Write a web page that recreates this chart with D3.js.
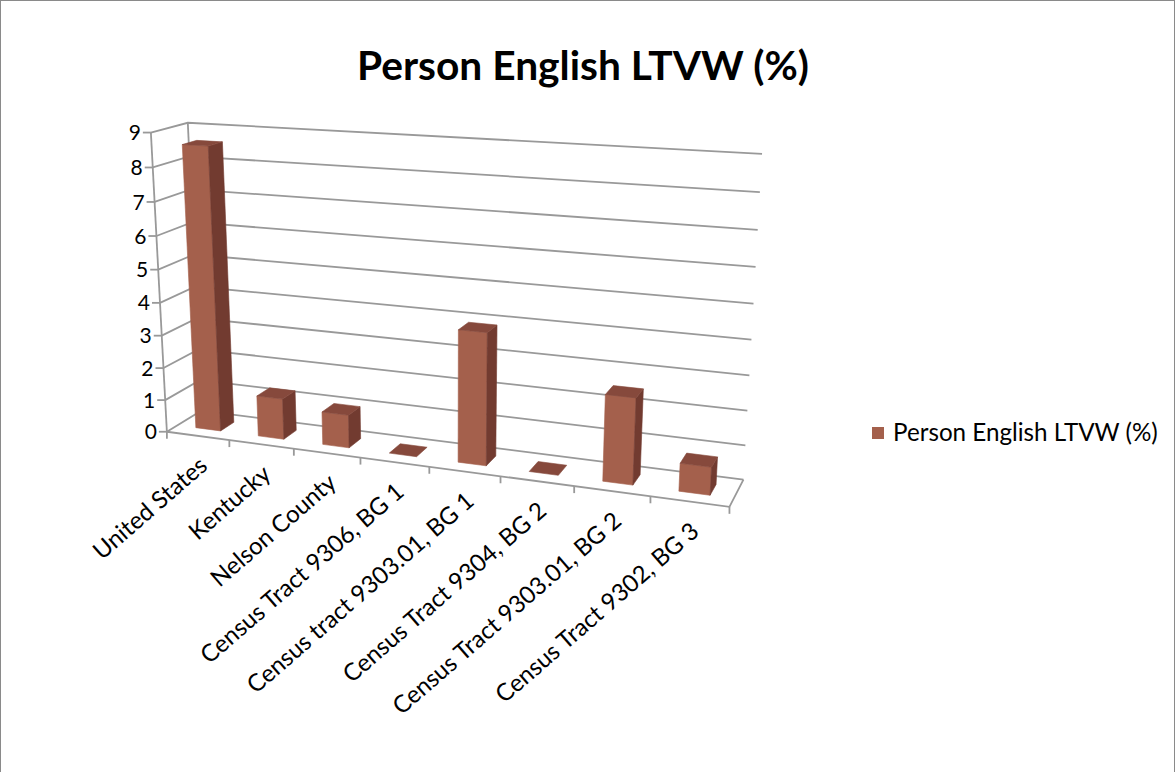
<!DOCTYPE html>
<html>
<head>
<meta charset="utf-8">
<script src="https://cdn.jsdelivr.net/npm/d3@7"></script>
<style>
body{margin:0;background:#fff}
text{font-family:Lato,'Open Sans',sans-serif;fill:#000}
</style>
</head>
<body>
<div id="chart"></div>
<script>
// data
var categories = ['United States','Kentucky','Nelson County','Census Tract 9306, BG 1',
                  'Census tract 9303.01, BG 1','Census Tract 9304, BG 2',
                  'Census Tract 9303.01, BG 2','Census Tract 9302, BG 3'];
var values = [8.6, 1.25, 1.0, 0, 3.9, 0, 2.5, 0.8];
var yTicks = [0,1,2,3,4,5,6,7,8,9];
var seriesName = 'Person English LTVW (%)';
var chartTitle = 'Person English LTVW (%)';

var width=1176, height=772;
var barFront='#a4604c', barSide='#723b30', barTop='#86493c';
var gridColor='#999999';

var svg=d3.select('#chart').append('svg').attr('width',width).attr('height',height);

svg.append('rect').attr('x',0.5).attr('y',0.5).attr('width',width-2).attr('height',height+5)
   .attr('fill','#fff').attr('stroke','#8a8a8a');

// plot box (unit cube) -> screen, points of the frame seen in the picture
var frame=[
  [[0,0,0],[166.7,431.7]],
  [[0,1,0],[150.7,133.3]],
  [[0,1,1],[188,122]],
  [[0,0,1],[201.5,411]],
  [[1,0,1],[743,480]],
  [[1,1,1],[762,154]],
  [[1,0,0],[730,506.7]]
];
// category ticks along the front edge
[230,293,360,430,500,575,650].forEach(function(x,i){
  frame.push([[(i+1)/8,0,0],[x,431.7+0.1332*(x-166.7)]]);
});

// solve the 3x4 camera matrix from the frame (least squares)
function solveCamera(pts){
  var A=[],b=[];
  pts.forEach(function(p){
    var X=p[0][0],Y=p[0][1],Z=p[0][2],u=p[1][0],v=p[1][1];
    A.push([X,Y,Z,1,0,0,0,0,-u*X,-u*Y,-u*Z]); b.push(u);
    A.push([0,0,0,0,X,Y,Z,1,-v*X,-v*Y,-v*Z]); b.push(v);
  });
  var n=11,M=[];
  for(var i=0;i<n;i++){
    M.push([]);
    for(var j=0;j<n;j++){
      var s=0; for(var k=0;k<A.length;k++) s+=A[k][i]*A[k][j];
      M[i].push(s);
    }
    var t=0; for(var k=0;k<A.length;k++) t+=A[k][i]*b[k];
    M[i].push(t);
  }
  for(var c=0;c<n;c++){
    var piv=c;
    for(var r=c+1;r<n;r++) if(Math.abs(M[r][c])>Math.abs(M[piv][c])) piv=r;
    var tmp=M[c];M[c]=M[piv];M[piv]=tmp;
    for(var r=0;r<n;r++){
      if(r==c) continue;
      var f=M[r][c]/M[c][c];
      for(var j=c;j<=n;j++) M[r][j]-=f*M[c][j];
    }
  }
  return M.map(function(row,i){return row[n]/row[i];});
}
var P=solveCamera(frame);
function project(x,y,z){
  var w=P[8]*x+P[9]*y+P[10]*z+1;
  return [(P[0]*x+P[1]*y+P[2]*z+P[3])/w,(P[4]*x+P[5]*y+P[6]*z+P[7])/w];
}

var xScale=d3.scaleBand().domain(categories).range([0,1]).paddingInner(0.6).paddingOuter(0.3);
var yScale=d3.scaleLinear().domain([0,9]).range([0,1]);
var zBar=[0.3,0.7];

var line=d3.line();
var grid=svg.append('g').attr('fill','none').attr('stroke',gridColor).attr('stroke-width',1.8);

// side wall + back wall gridlines
yTicks.forEach(function(t){
  var y=yScale(t);
  grid.append('path').attr('d',line([project(0,y,0),project(0,y,1),project(1,y,1)]));
});
// wall edges
grid.append('path').attr('d',line([project(0,0,0),project(0,1,0)]));
grid.append('path').attr('d',line([project(0,0,1),project(0,1,1)]));
// floor
grid.append('path').attr('d',line([project(0,0,0),project(1,0,0),project(1,0,1)]));
// category ticks
d3.range(categories.length+1).forEach(function(i){
  var p=project(i*xScale.step(),0,0);
  grid.append('path').attr('d',line([p,[p[0],p[1]+7]]));
});
// value ticks + labels
yTicks.forEach(function(t){
  var p=project(0,yScale(t),0);
  grid.append('path').attr('d',line([p,[p[0]-8,p[1]]]));
  svg.append('text').attr('x',p[0]-10).attr('y',p[1]).attr('dy','0.36em')
     .attr('text-anchor','end').style('font-size','21px').text(t);
});

// bars
function faces(x0,x1,y0,y1,z0,z1){
  return [
    {c:barFront,v:[[x0,y0,z0],[x0,y1,z0],[x1,y1,z0],[x1,y0,z0]]},
    {c:barFront,v:[[x0,y0,z1],[x1,y0,z1],[x1,y1,z1],[x0,y1,z1]]},
    {c:barSide,v:[[x1,y0,z0],[x1,y1,z0],[x1,y1,z1],[x1,y0,z1]]},
    {c:barSide,v:[[x0,y0,z0],[x0,y0,z1],[x0,y1,z1],[x0,y1,z0]]},
    {c:barTop,v:[[x0,y1,z0],[x0,y1,z1],[x1,y1,z1],[x1,y1,z0]]},
    {c:barTop,v:[[x0,y0,z0],[x1,y0,z0],[x1,y0,z1],[x0,y0,z1]]}
  ];
}
function area(pts){
  var s=0;
  for(var i=0;i<pts.length;i++){var a=pts[i],b=pts[(i+1)%pts.length];s+=a[0]*b[1]-b[0]*a[1];}
  return s/2;
}
var refSign=null;
var bars=svg.append('g');
categories.forEach(function(c,i){
  var x0=xScale(c),x1=x0+xScale.bandwidth();
  var fs=faces(x0,x1,0,yScale(values[i]),zBar[0],zBar[1]);
  fs.forEach(function(f){
    f.p=f.v.map(function(q){return project(q[0],q[1],q[2]);});
    f.a=area(f.p);
  });
  if(refSign===null){refSign=Math.sign(fs[0].a);}
  fs.forEach(function(f){
    if(Math.sign(f.a)!==refSign || Math.abs(f.a)<0.01) return;
    bars.append('path').attr('d',line(f.p)+'Z').attr('fill',f.c)
        .attr('stroke',f.c).attr('stroke-width',0.6);
  });
});

// category labels
categories.forEach(function(c,i){
  var p=project((i+0.5)*xScale.step(),0,0);
  svg.append('text')
     .attr('transform','translate('+(p[0]+11)+','+(p[1]+32)+') rotate(-41)')
     .attr('text-anchor','end').style('font-size','24px').text(c);
});

// title, fitted to the width seen in the picture
var tt=svg.append('text').attr('x',583).attr('y',80).attr('text-anchor','middle')
   .style('font-weight','bold').style('font-size','40px').text(chartTitle);
var tw=tt.node().getComputedTextLength();
tt.style('font-size',(40*452/tw)+'px');

// legend
svg.append('rect').attr('x',872).attr('y',427).attr('width',12).attr('height',12).attr('fill',barFront);
var lt=svg.append('text').attr('x',893).attr('y',441).style('font-size','20px').text(seriesName);
var lw=lt.node().getComputedTextLength();
lt.style('font-size',(20*265/lw)+'px');
</script>
</body>
</html>
